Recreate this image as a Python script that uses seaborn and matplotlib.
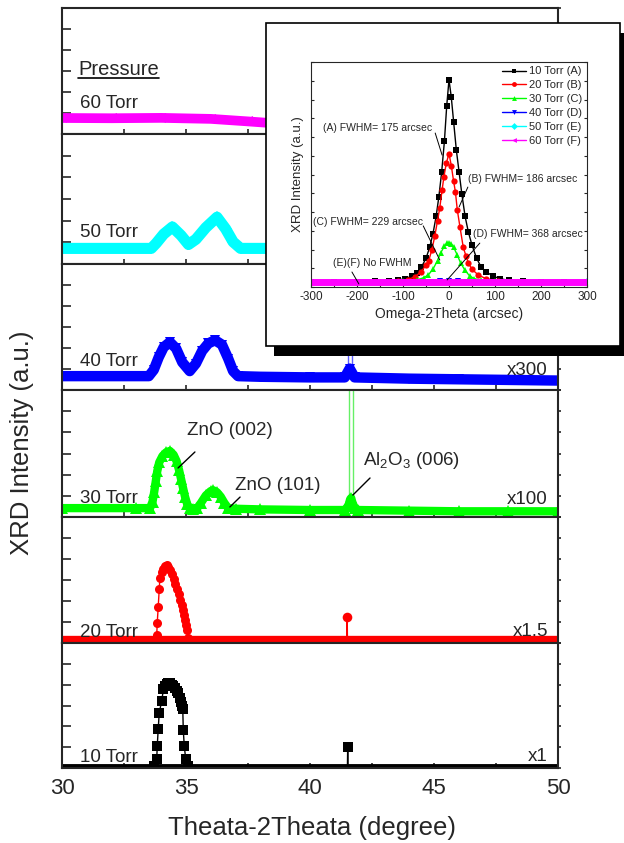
import numpy as np
import matplotlib
matplotlib.use("Agg")
import matplotlib.pyplot as plt
import seaborn as sns
from matplotlib.ticker import MultipleLocator, FixedLocator
from matplotlib.patches import Rectangle
from matplotlib.lines import Line2D

sns.set_style("ticks")
plt.rcParams['font.family'] = ['Liberation Sans', 'DejaVu Sans']
plt.rcParams['mathtext.default'] = 'regular'
plt.rcParams['axes.unicode_minus'] = False

# ---------------- data: main panels (2theta in degrees, relative intensity in panel) ----
x60 = [30.0, 32.0, 34.0, 36.0, 37.5, 38.2, 40.0, 45.0, 50.0]
y60 = [0.127, 0.125, 0.128, 0.120, 0.100, 0.090, 0.085, 0.080, 0.080]

x50 = [30.0, 33.6, 33.8, 34.1, 34.45, 34.8, 35.1, 35.4, 35.8, 36.25, 36.6, 36.9, 37.2, 40.0, 50.0]
y50 = [0.12, 0.12, 0.16, 0.23, 0.285, 0.22, 0.15, 0.19, 0.28, 0.36, 0.27, 0.17, 0.12, 0.12, 0.12]

x40 = [30.0, 33.5, 33.7, 33.9, 34.1, 34.35, 34.6, 34.85, 35.15, 35.4, 35.65, 35.9, 36.17,
       36.45, 36.7, 36.9, 37.1, 38.0, 40.0, 41.4, 41.6, 41.8, 44.0, 46.0, 48.0, 50.0]
y40 = [0.11, 0.11, 0.16, 0.26, 0.34, 0.38, 0.33, 0.22, 0.15, 0.21, 0.31, 0.37, 0.395,
       0.36, 0.25, 0.15, 0.11, 0.105, 0.10, 0.10, 0.17, 0.10, 0.09, 0.085, 0.08, 0.075]
spike40_x = [41.55, 41.55, 41.70, 41.70]
spike40_y = [0.12, 3.0, 3.0, 0.12]

x30 = [30.0, 33.0, 33.55, 33.65, 33.72, 33.78, 33.84, 33.92, 34.05, 34.2, 34.35, 34.5, 34.62,
       34.72, 34.80, 34.88, 34.96, 35.05, 35.15, 35.3, 35.45, 35.6, 35.8, 36.0, 36.1, 36.25,
       36.4, 36.55, 36.7, 37.0, 38.0, 40.0, 41.4, 41.55, 41.62, 41.66, 41.7, 41.8, 41.95,
       44.0, 46.0, 48.0, 50.0]
y30 = [0.07, 0.07, 0.07, 0.12, 0.20, 0.28, 0.36, 0.43, 0.48, 0.51, 0.52, 0.49, 0.44,
       0.37, 0.30, 0.23, 0.16, 0.10, 0.07, 0.065, 0.07, 0.11, 0.17, 0.205, 0.21, 0.195,
       0.16, 0.11, 0.07, 0.065, 0.06, 0.055, 0.055, 0.09, 0.14, 0.15, 0.12, 0.07, 0.055,
       0.05, 0.045, 0.045, 0.045]
spike30_x = [41.57, 41.57, 41.75, 41.75]
spike30_y = [0.09, 3.0, 3.0, 0.08]

base20_x = [30.0, 50.0]
base20_y = [0.025, 0.025]
x20 = [33.70, 33.82, 33.84, 33.88, 33.92, 33.95, 34.02, 34.09, 34.15, 34.22, 34.29, 34.36,
       34.43, 34.50, 34.56, 34.63, 34.70, 34.76, 34.82, 34.87, 34.92, 34.96, 35.00, 35.03,
       35.09, 35.20]
y20 = [0.025, 0.063, 0.16, 0.287, 0.426, 0.518, 0.56, 0.59, 0.61, 0.616, 0.60, 0.576,
       0.545, 0.51, 0.47, 0.43, 0.385, 0.34, 0.30, 0.26, 0.22, 0.18, 0.14, 0.10,
       0.037, 0.025]
spike20_x = [41.49, 41.50, 41.51]
spike20_y = [0.025, 0.21, 0.025]

base10_x = [30.0, 50.0]
base10_y = [0.018, 0.018]
x10 = [33.70, 33.82, 33.84, 33.88, 33.92, 34.02, 34.09, 34.15, 34.22, 34.29, 34.35, 34.42,
       34.48, 34.56, 34.62, 34.69, 34.76, 34.81, 34.85, 34.87, 34.89, 34.93, 34.99, 35.09]
y10 = [0.018, 0.069, 0.174, 0.313, 0.44, 0.537, 0.63, 0.655, 0.67, 0.68, 0.68, 0.668,
       0.66, 0.64, 0.62, 0.60, 0.563, 0.53, 0.50, 0.47, 0.305, 0.176, 0.069, 0.018]
spike10_x = [41.51, 41.52, 41.53]
spike10_y = [0.018, 0.17, 0.018]

scale_labels = ["", "", "x300", "x100", "x1.5", "x1"]
panel_names = ["60 Torr", "50 Torr", "40 Torr", "30 Torr", "20 Torr", "10 Torr"]

# ---------------- data: inset (omega-2theta rocking, arcsec vs intensity) ----------------
xa = [-300, -250, -200, -160, -130, -110, -95, -80, -70, -60, -50, -42, -35, -28, -22, -16,
      -10, -5, 0, 5, 10, 16, 22, 28, 35, 42, 50, 60, 70, 80, 95, 110, 130, 160, 200, 250, 300]
ya = [0.002, 0.002, 0.003, 0.005, 0.008, 0.012, 0.018, 0.03, 0.045, 0.07, 0.11, 0.16, 0.22,
      0.30, 0.39, 0.50, 0.64, 0.80, 0.92, 0.84, 0.73, 0.60, 0.50, 0.40, 0.30, 0.23, 0.17,
      0.11, 0.07, 0.05, 0.03, 0.018, 0.01, 0.005, 0.003, 0.002, 0.002]
xb = [-300, -200, -150, -110, -90, -75, -60, -50, -44, -37, -31, -25, -20, -15, -11, -6, 0,
      5, 10, 14, 18, 24, 31, 37, 42, 50, 64, 80, 107, 150, 200, 300]
yb = [0.001, 0.002, 0.004, 0.008, 0.014, 0.025, 0.05, 0.08, 0.10, 0.15, 0.21, 0.28, 0.34,
      0.42, 0.48, 0.54, 0.585, 0.53, 0.46, 0.41, 0.33, 0.25, 0.16, 0.12, 0.09, 0.06, 0.034,
      0.018, 0.006, 0.003, 0.002, 0.001]
xc = [-300, -150, -100, -70, -55, -45, -35, -25, -18, -10, -4, 0, 5, 10, 18, 25, 35, 45, 55,
      70, 100, 150, 300]
yc = [0.001, 0.003, 0.006, 0.012, 0.022, 0.035, 0.06, 0.10, 0.135, 0.165, 0.178, 0.18,
      0.175, 0.16, 0.125, 0.09, 0.055, 0.03, 0.018, 0.01, 0.005, 0.003, 0.001]
xd = [-300, -40, -20, 0, 20, 40, 300]
yd = [0.002, 0.003, 0.006, 0.009, 0.006, 0.003, 0.002]
xe = [-300, 0, 300]
ye = [0.002, 0.002, 0.002]
xf = [-300, -150, 0, 150, 300]
yf = [0.001, 0.001, 0.001, 0.001, 0.001]
inset_labels = ["10 Torr (A)", "20 Torr (B)", "30 Torr (C)", "40 Torr (D)", "50 Torr (E)", "60 Torr (F)"]
fwhm_texts = ["(A) FWHM= 175 arcsec", "(B) FWHM= 186 arcsec", "(C) FWHM= 229 arcsec",
              "(D) FWHM= 368 arcsec", "(E)(F) No FWHM"]

BLACK, RED, GREEN, BLUE, CYAN, MAG = "#000000", "#ff0000", "#00ff00", "#0000ff", "#00ffff", "#ff00ff"

W, H = 624, 843
fig = plt.figure(figsize=(W / 100, H / 100), dpi=100)


def P(px, py):
    return px / W, 1 - py / H


def draw(ax, x, y, color, lw, marker=None, ms=0, z=2, alpha=1.0):
    sns.lineplot(x=x, y=y, ax=ax, color=color, linewidth=lw, sort=False, estimator=None,
                 marker=marker, markersize=ms, markeredgewidth=0, zorder=z, alpha=alpha,
                 solid_capstyle='butt', legend=False)


def seg(ax, p0, p1, lw=1.0):
    ax.annotate("", xy=p1, xytext=p0, annotation_clip=False,
                arrowprops=dict(arrowstyle='-', lw=lw, color='black', shrinkA=0, shrinkB=0))


bounds = [8, 134, 264, 390, 517, 643, 768]
XL, XR = 62, 558
axes = []
for i in range(6):
    top, bot = bounds[i], bounds[i + 1]
    ax = fig.add_axes([XL / W, 1 - bot / H, (XR - XL) / W, (bot - top) / H])
    ax.set_xlim(30, 50)
    ax.set_ylim(0, 1)
    ax.xaxis.set_major_locator(MultipleLocator(5))
    ax.xaxis.set_minor_locator(MultipleLocator(2.5))
    ax.yaxis.set_major_locator(FixedLocator(np.arange(0, 1.001, 1 / 6)))
    ax.tick_params(axis='x', which='both', direction='in', length=3.5, width=1.2,
                   top=False, bottom=True, labelbottom=(i == 5), labelsize=16, pad=7)
    ax.tick_params(axis='y', which='both', direction='in', length=6.5, width=1.2,
                   left=True, right=False, labelleft=False)
    for s in ax.spines.values():
        s.set_linewidth(1.5)
    ax.set_xlabel("")
    ax.set_ylabel("")
    tw = ax.twinx()
    tw.set_ylim(0, 1)
    tw.yaxis.set_major_locator(FixedLocator(np.arange(0, 1.001, 1 / 6)))
    tw.tick_params(axis='y', direction='out', length=2.5, width=1.2, labelright=False)
    for s in tw.spines.values():
        s.set_visible(False)
    axes.append(ax)

ax60, ax50, ax40, ax30, ax20, ax10 = axes
draw(ax60, x60, y60, MAG, 7, '<', 6.5)
draw(ax50, x50, y50, CYAN, 8, 'D', 6)
draw(ax40, spike40_x, spike40_y, "#5c5cff", 1.0, z=1)
draw(ax40, x40, y40, BLUE, 7.5, 'v', 7)
draw(ax30, spike30_x, spike30_y, "#66f066", 1.0, z=1)
draw(ax30, x30, y30, GREEN, 6, '^', 8)
draw(ax20, base20_x, base20_y, RED, 6)
draw(ax20, x20, y20, RED, 1.0, 'o', 6.5)
draw(ax20, spike20_x, spike20_y, RED, 1.0)
ax20.scatter([spike20_x[1]], [spike20_y[1]], s=48, color=RED, zorder=3, linewidths=0)
draw(ax10, base10_x, base10_y, BLACK, 3.5)
draw(ax10, x10, y10, BLACK, 1.0, 's', 6.5)
draw(ax10, spike10_x, spike10_y, BLACK, 1.0)
ax10.scatter([spike10_x[1]], [spike10_y[1]], s=45, color=BLACK, marker='s', zorder=3, linewidths=0)

# panel labels
name_base = [108, 237, 366, 503, 637, 762]
for nm, yb_ in zip(panel_names, name_base):
    fig.text(*P(80, yb_), nm, fontsize=13.5, va='baseline', ha='left')
sc_base = [0, 0, 375, 504, 636, 761]
for sl, yb_ in zip(scale_labels, sc_base):
    if sl:
        fig.text(*P(548, yb_), sl, fontsize=13.5, va='baseline', ha='right')
tp = fig.text(*P(78, 75), "Pressure", fontsize=14.5, va='baseline', ha='left')
fig.canvas.draw()
bb = tp.get_window_extent()
fig.add_artist(Line2D([bb.x0 / W, bb.x1 / W], [P(0, 78)[1]] * 2, transform=fig.transFigure,
                      color='black', lw=1.2))

# peak annotations in 30 Torr panel
fig.text(*P(187, 435), "ZnO (002)", fontsize=13.5, va='baseline', ha='left')
fig.text(*P(235, 490), "ZnO (101)", fontsize=13.5, va='baseline', ha='left')
fig.text(*P(363, 465), r"Al$_{2}$O$_{3}$ (006)", fontsize=13.5, va='baseline', ha='left')
seg(ax30, (35.36, 0.512), (34.68, 0.386))
seg(ax30, (37.18, 0.157), (36.77, 0.079))
seg(ax30, (42.42, 0.307), (41.73, 0.173))

fig.text(*P(312, 828), "Theata-2Theata (degree)", fontsize=18.5, va='center', ha='center')
fig.text(*P(22, 443), "XRD Intensity (a.u.)", fontsize=18.5, va='center', ha='center', rotation=90)

# ---------------- inset box with shadow ----------------
bx0, by0, bx1, by1 = 266, 23, 620, 346
fig.add_artist(Rectangle(P(bx0 + 8, by1 + 10), (bx1 - bx0) / W, (by1 - by0) / H,
                         transform=fig.transFigure, facecolor='black', edgecolor='none', zorder=5))
fig.add_artist(Rectangle(P(bx0, by1), (bx1 - bx0) / W, (by1 - by0) / H,
                         transform=fig.transFigure, facecolor='white', edgecolor='black',
                         lw=1.2, zorder=6))

axi = fig.add_axes([311 / W, 1 - 287 / H, 276 / W, 225 / H])
axi.set_zorder(10)
axi.set_facecolor('white')
series = [(xa, ya, BLACK, 's'), (xb, yb, RED, 'o'), (xc, yc, GREEN, '^'),
          (xd, yd, BLUE, 'v'), (xe, ye, CYAN, 'D')]
for xs, ys, c, m in series:
    draw(axi, xs, ys, c, 1.0, m, 4.5)
draw(axi, xf, yf, MAG, 5)
axi.set_xlim(-300, 300)
axi.set_ylim(-0.02, 1.0)
axi.xaxis.set_major_locator(MultipleLocator(100))
axi.xaxis.set_minor_locator(MultipleLocator(50))
axi.yaxis.set_major_locator(FixedLocator(-0.02 + np.arange(13) * 0.085))
axi.tick_params(axis='x', which='both', direction='in', length=2.5, width=0.8, labelsize=8.5, pad=3)
axi.tick_params(axis='y', which='both', direction='in', length=2.5, width=0.8,
                left=True, right=True, labelleft=False)
for s in axi.spines.values():
    s.set_linewidth(0.8)
axi.set_xlabel("Omega-2Theta (arcsec)", fontsize=10, labelpad=3)
axi.set_ylabel("XRD Intensity (a.u.)", fontsize=9.5, labelpad=5)

handles = [Line2D([], [], color=c, marker=m, lw=1, ms=3.5, markeredgewidth=0)
           for c, m in [(BLACK, 's'), (RED, 'o'), (GREEN, '^'), (BLUE, 'v'), (CYAN, 'D'), (MAG, '<')]]
axi.legend(handles, inset_labels, loc='upper right', bbox_to_anchor=(1.0, 1.0), frameon=False,
           fontsize=8, handlelength=2.2, handletextpad=0.3, labelspacing=0.35,
           borderaxespad=0.2, borderpad=0.2)

txt_pos = [(-274, 0.701), (41, 0.470), (-296, 0.275), (52, 0.22), (-252, 0.089)]
lines = [((-30, 0.678), (-15, 0.578)), ((41, 0.433), (22, 0.343)), ((-56, 0.257), (-20, 0.102)),
         ((67, 0.179), (-4, 0.012)), ((-211, 0.048), (-196, -0.006))]
for s, (tx, ty), (p0, p1) in zip(fwhm_texts, txt_pos, lines):
    axi.text(tx, ty, s, fontsize=7.5, va='center', ha='left')
    seg(axi, p0, p1, lw=0.7)

fig.savefig("out.png", dpi=100)
